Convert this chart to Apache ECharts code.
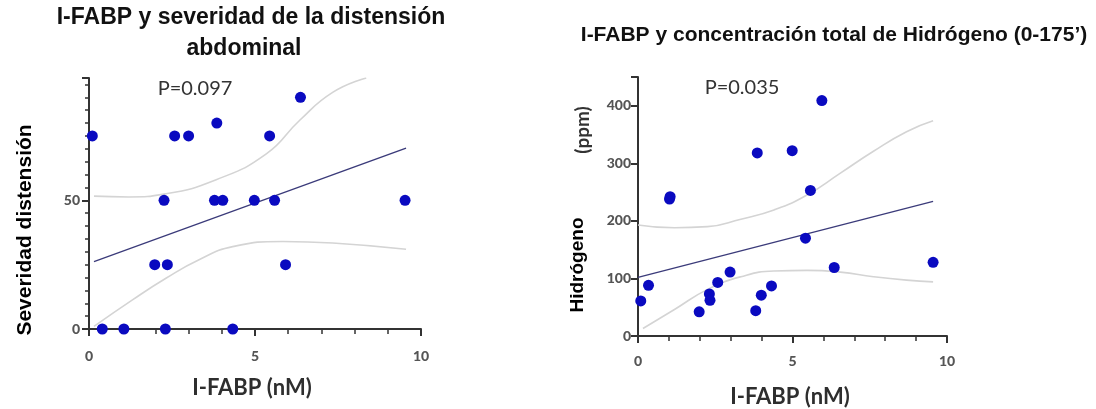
<!DOCTYPE html>
<html>
<head>
<meta charset="utf-8">
<script src="https://cdn.jsdelivr.net/npm/echarts@6/dist/echarts.min.js"></script>
<style>
html,body{margin:0;padding:0;background:#fff;}
#c{width:1096px;height:409px;}
</style>
</head>
<body>
<div id="c"></div>
<script>
// ---- Left chart: I-FABP vs severidad distensión ----
const sevPoints = [
  [0.1,75],[0.4,0],[1.05,0],[2.3,0],[4.33,0],[1.98,25],[2.36,25],[2.26,50],
  [2.58,75],[3.0,75],[3.85,80],[3.78,50],[4.03,50],[4.98,50],[5.59,50],
  [5.44,75],[5.92,25],[6.37,90],[9.52,50]
];
const sevFit = [[0.15,26.2],[9.55,70.3]];
const sevUpper = [[0.15,51.6],[1.2,51.3],[2.3,52.5],[3.83,58],[5.34,68],[6.34,81],[7.35,92],[8.35,97.5]];
const sevLower = [[0.15,1],[1.32,11.4],[2.33,19.8],[3.33,27],[4.33,32],[5.84,34],[7.34,33.4],[9.55,31]];
const sevP = 'P=0.097';

// ---- Right chart: I-FABP vs Hidrógeno ----
const h2Points = [
  [0.09,61],[0.34,88],[1.02,238],[1.04,242],[1.98,42],[2.31,73],[2.33,62],[2.58,93],
  [2.98,111],[3.81,44],[3.86,318],[3.99,71],[4.32,87],[4.99,322],[5.42,170],
  [5.58,253],[5.95,409],[6.35,119],[9.55,128]
];
const h2Fit = [[0,102],[9.55,234]];
const h2Upper = [[0,193],[1.18,188],[2.25,190],[3.33,203],[4.4,219],[5.47,245],[6.55,283],[7.62,321],[8.69,355],[9.55,374]];
const h2Lower = [[0.16,13],[1.18,46],[2.25,81],[3.33,103],[4.4,113],[5.47,114],[6.55,111],[7.62,103],[8.69,97],[9.55,94]];
const h2P = 'P=0.035';

const xTicks = [0,5,10];
const sevTicks = [0,50];
const h2Ticks = [0,100,200,300,400];

const chart = echarts.init(document.getElementById('c'), null, {renderer:'canvas'});

const labelStyle = {fontFamily:'Lato', fontWeight:900, fontSize:14, color:'#555'};
function xAxisCfg(gi, margin){
  return {
    gridIndex: gi, type:'value', min:0, max:10, interval:5,
    axisLine:{show:true, lineStyle:{color:'#333', width:2}},
    axisTick:{show:true, length:7, lineStyle:{color:'#333', width:2}},
    minorTick:{show:true, splitNumber:5, length:5, lineStyle:{color:'#333', width:1.5}},
    splitLine:{show:false},
    axisLabel:Object.assign({margin:margin, formatter:v=> xTicks.includes(v)? String(v):''}, labelStyle)
  };
}
function yAxisCfg(gi, max, interval, ticks, minor, margin){
  return {
    gridIndex: gi, type:'value', min:0, max:max, interval:interval,
    axisLine:{show:true, onZero:false, lineStyle:{color:'#333', width:2}},
    axisTick:{show:true, length:7, lineStyle:{color:'#333', width:2}},
    minorTick:{show:minor>0, splitNumber:minor||5, length:4, lineStyle:{color:'#333', width:1.5}},
    splitLine:{show:false},
    axisLabel:Object.assign({margin:margin, formatter:v=> ticks.includes(v)? String(v):''}, labelStyle)
  };
}
const band = {color:'#d4d4d4', width:1.6};
const fitStyle = {color:'#3b3b7a', width:1.3};
const dot = {color:'#0a0ac0', opacity:1};

chart.setOption({
  animation:false,
  backgroundColor:'#fff',
  grid:[
    {left:89, right:675, top:78, bottom:80},
    {left:638, right:149, top:77, bottom:73}
  ],
  xAxis:[xAxisCfg(0, 20), xAxisCfg(1, 18)],
  yAxis:[yAxisCfg(0, 97.5, 50, sevTicks, 10, 9), yAxisCfg(1, 450, 100, h2Ticks, 0, 7)],
  series:[
    {type:'line', xAxisIndex:0, yAxisIndex:0, data:sevUpper, smooth:true, symbol:'none', lineStyle:band, z:1},
    {type:'line', xAxisIndex:0, yAxisIndex:0, data:sevLower, smooth:true, symbol:'none', lineStyle:band, z:1},
    {type:'line', xAxisIndex:0, yAxisIndex:0, data:sevFit, symbol:'none', lineStyle:fitStyle, z:2},
    {type:'scatter', xAxisIndex:0, yAxisIndex:0, data:sevPoints, symbolSize:11, itemStyle:dot, z:3, clip:false},
    {type:'line', xAxisIndex:1, yAxisIndex:1, data:h2Upper, smooth:true, symbol:'none', lineStyle:band, z:1},
    {type:'line', xAxisIndex:1, yAxisIndex:1, data:h2Lower, smooth:true, symbol:'none', lineStyle:band, z:1},
    {type:'line', xAxisIndex:1, yAxisIndex:1, data:h2Fit, symbol:'none', lineStyle:fitStyle, z:2},
    {type:'scatter', xAxisIndex:1, yAxisIndex:1, data:h2Points, symbolSize:11, itemStyle:dot, z:3, clip:false}
  ],
  graphic:[
    {type:'text', x:251, y:18, style:{text:'I-FABP y severidad de la distensión', font:'bold 23px "Liberation Sans", Arial, sans-serif', fill:'#111', textAlign:'center', textVerticalAlign:'middle'}},
    {type:'text', x:244, y:49, style:{text:'abdominal', font:'bold 23px "Liberation Sans", Arial, sans-serif', fill:'#111', textAlign:'center', textVerticalAlign:'middle'}},
    {type:'text', x:834, y:35, style:{text:'I-FABP y concentración total de Hidrógeno (0-175’)', font:'bold 21px "Liberation Sans", Arial, sans-serif', fill:'#111', textAlign:'center', textVerticalAlign:'middle'}},
    {type:'text', x:25, y:230, rotation:Math.PI/2, style:{text:'Severidad distensión', font:'bold 21px "Liberation Sans", Arial, sans-serif', fill:'#000', textAlign:'center', textVerticalAlign:'middle'}},
    {type:'text', x:578, y:265, rotation:Math.PI/2, style:{text:'Hidrógeno', font:'bold 19px "Liberation Sans", Arial, sans-serif', fill:'#000', textAlign:'center', textVerticalAlign:'middle'}},
    {type:'text', x:583, y:130, rotation:Math.PI/2, style:{text:'(ppm)', font:'bold 19px Lato, sans-serif', fill:'#333', textAlign:'center', textVerticalAlign:'middle'}},
    {type:'text', x:252, y:388, style:{text:'I-FABP (nM)', font:'bold 22px Lato, sans-serif', fill:'#2e2e2e', textAlign:'center', textVerticalAlign:'middle'}},
    {type:'text', x:790, y:397, style:{text:'I-FABP (nM)', font:'bold 22px Lato, sans-serif', fill:'#2e2e2e', textAlign:'center', textVerticalAlign:'middle'}},
    {type:'text', x:195, y:89, style:{text:sevP, font:'20px Lato, sans-serif', fill:'#333', textAlign:'center', textVerticalAlign:'middle'}},
    {type:'text', x:742, y:88, style:{text:h2P, font:'20px Lato, sans-serif', fill:'#333', textAlign:'center', textVerticalAlign:'middle'}}
  ]
});
</script>
</body>
</html>
